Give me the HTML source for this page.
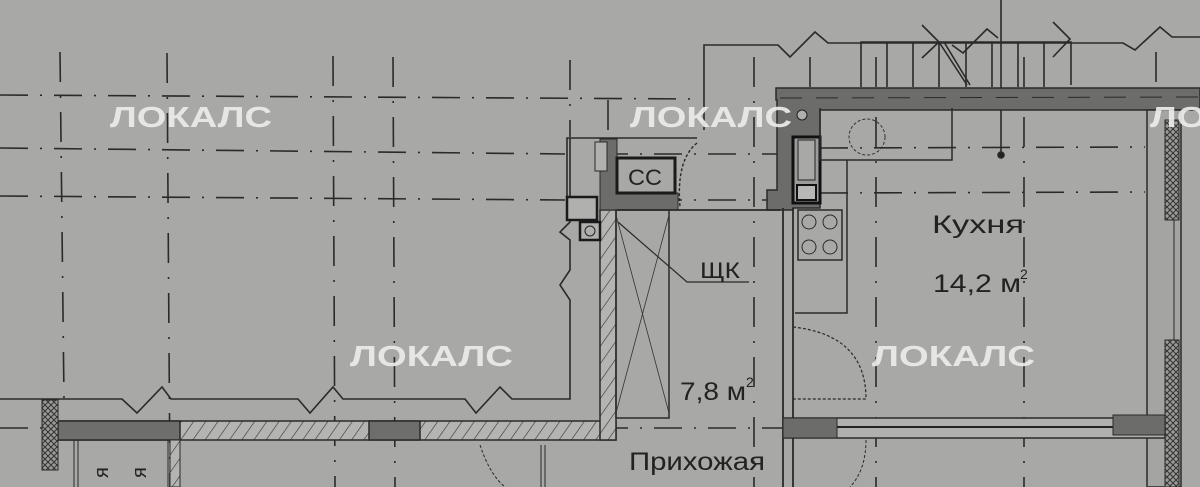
<!DOCTYPE html>
<html><head><meta charset="utf-8"><style>
html,body{margin:0;padding:0;background:#a8a8a6;}
svg{display:block}
.t{font-family:"Liberation Sans","DejaVu Sans",sans-serif;fill:#222}
.w{font-family:"Liberation Sans","DejaVu Sans",sans-serif;font-weight:bold;fill:#ececea;opacity:.92}
</style></head><body>
<svg width="1200" height="487" viewBox="0 0 1200 487" xmlns="http://www.w3.org/2000/svg">
<defs>
<pattern id="h" width="10" height="10" patternUnits="userSpaceOnUse" patternTransform="rotate(35)"><rect width="10" height="10" fill="#b4b4b2"/><line x1="0" y1="0" x2="0" y2="10" stroke="#333" stroke-width="1.2"/></pattern>
<pattern id="x" width="6" height="6" patternUnits="userSpaceOnUse"><rect width="6" height="6" fill="#9a9a98"/><path d="M0 0L6 6M6 0L0 6" stroke="#333" stroke-width="1"/></pattern>
</defs>
<rect width="1200" height="487" fill="#a8a8a6"/>
<g stroke="#2a2a2a" stroke-width="1.6" fill="none">
<g stroke-dasharray="28 12 2 12">
<line x1="0" y1="95" x2="700" y2="99"/>
<line x1="0" y1="148" x2="565" y2="154"/>
<line x1="0" y1="196" x2="565" y2="200"/>
<line x1="820" y1="148" x2="1145" y2="147"/>
<line x1="820" y1="193" x2="1145" y2="192"/>
<line x1="600" y1="154" x2="780" y2="154"/>
<line x1="600" y1="200" x2="780" y2="200"/>
<line x1="0" y1="428" x2="600" y2="428"/>
<line x1="600" y1="428" x2="795" y2="428"/>
</g>
<g stroke-dasharray="30 14 2 14">
<line x1="60" y1="52" x2="64" y2="400"/>
<line x1="167" y1="53" x2="170" y2="487"/>
<line x1="333" y1="56" x2="335" y2="487"/>
<line x1="393" y1="57" x2="395" y2="487"/>
<line x1="570" y1="60" x2="570" y2="137"/>
<line x1="754" y1="57" x2="754" y2="487"/>
<line x1="810" y1="57" x2="810" y2="110"/>
<line x1="876" y1="57" x2="876" y2="487"/>
<line x1="1024" y1="57" x2="1024" y2="487"/>
<line x1="1156" y1="52" x2="1156" y2="110"/>
<line x1="608" y1="100" x2="608" y2="140"/>
</g>
<path d="M704 130V45H778L790 57L815 32L828 43H1123L1135 50L1160 27L1172 37H1200"/>
<path d="M861 87V42H1071V85M887 42V87M913 42V87M939 42V87M966 42V87M992 42V87M1018 42V87M1044 42V87"/>
<path d="M922 25L939 42L922 58M1053 22L1070 39L1053 57M939 42L967 85M944 42L970 85M952 45L963 53L987 29L998 38"/>
<line x1="1001" y1="0" x2="1001" y2="155"/>
<circle cx="1001" cy="155" r="3" fill="#222"/>
<path d="M0 399H122L137 413L162 387L171 399H298L310 413L333 387L343 399H465L476 413L500 387L512 399H570V300L560 285L570 270V240L560 232L570 222V138"/>
</g>
<rect x="58" y="421" width="558" height="19" fill="url(#h)" stroke="#2a2a2a" stroke-width="1.5"/>
<rect x="58" y="421" width="122" height="19" fill="#6e6e6c" stroke="#2a2a2a" stroke-width="1.5"/>
<rect x="369" y="421" width="51" height="19" fill="#6e6e6c" stroke="#2a2a2a" stroke-width="1.5"/>
<rect x="42" y="400" width="16" height="70" fill="url(#x)" stroke="#2a2a2a"/>
<rect x="170" y="440" width="10" height="47" fill="url(#h)" stroke="#2a2a2a"/>
<path d="M74 487V440M78 487V440M168 487V440" stroke="#2a2a2a" fill="none"/>
<text class="t" transform="translate(108 478) rotate(-90)" font-size="20">я</text>
<text class="t" transform="translate(146 478) rotate(-90)" font-size="20">я</text>
<rect x="600" y="210" width="16" height="230" fill="url(#h)" stroke="#2a2a2a" stroke-width="1.5"/>
<path d="M567 200V138H697" stroke="#2a2a2a" stroke-width="1.6" fill="none"/>
<path d="M600 139H617V193H678V210H600Z" fill="#6c6c6a" stroke="#2a2a2a"/>
<rect x="617" y="158" width="58" height="35" fill="#a8a8a6" stroke="#1a1a1a" stroke-width="3"/>
<text class="t" x="628" y="185" font-size="22" textLength="34" lengthAdjust="spacingAndGlyphs">CC</text>
<rect x="595" y="142" width="12" height="29" fill="#b0b0ae" stroke="#2a2a2a"/>
<rect x="567" y="197" width="30" height="23" fill="#b0b0ae" stroke="#1a1a1a" stroke-width="2.5"/>
<rect x="580" y="222" width="20" height="18" fill="#b0b0ae" stroke="#1a1a1a" stroke-width="2.5"/>
<circle cx="590" cy="231" r="5" fill="none" stroke="#222"/>
<path d="M697 143Q676 160 680 207" stroke="#2a2a2a" stroke-dasharray="3 2" fill="none" stroke-width="1.4"/>
<path d="M776 88H1200V110H820V208H793V210H767V190H777V100H776Z" fill="#6c6c6a" stroke="#2a2a2a" stroke-width="1.5"/>
<line x1="780" y1="98" x2="1200" y2="97" stroke="#2a2a2a" stroke-dasharray="22 14"/>
<rect x="793" y="137" width="27" height="66" fill="#9c9c9a" stroke="#111" stroke-width="3"/>
<rect x="798" y="140" width="17" height="40" fill="#a8a8a6" stroke="#222"/>
<rect x="797" y="185" width="19" height="15" fill="#b8b8b6" stroke="#111" stroke-width="2"/>
<circle cx="802" cy="115" r="5" fill="#b0b0ae" stroke="#222"/>
<path d="M617 210H780M783 208V487M793 208V487" stroke="#2a2a2a" stroke-width="1.8" fill="none"/>
<rect x="1147" y="110" width="34" height="377" fill="#a4a4a2" stroke="#2a2a2a" stroke-width="1.5"/>
<rect x="1165" y="120" width="14" height="100" fill="url(#x)" stroke="#2a2a2a"/>
<rect x="1165" y="340" width="14" height="147" fill="url(#x)" stroke="#2a2a2a"/>
<line x1="1174" y1="220" x2="1174" y2="340" stroke="#2a2a2a"/>
<path d="M820 108V160H952V108M847 160V313H795" stroke="#2a2a2a" stroke-width="1.5" fill="none"/>
<circle cx="867" cy="137" r="18" fill="none" stroke="#333" stroke-dasharray="3 2"/>
<rect x="798" y="210" width="44" height="50" fill="none" stroke="#2a2a2a" stroke-width="1.5"/>
<g fill="none" stroke="#2a2a2a"><circle cx="809" cy="222" r="7"/><circle cx="830" cy="222" r="7"/><circle cx="809" cy="247" r="7"/><circle cx="830" cy="247" r="7"/></g>
<rect x="616" y="210" width="53" height="208" fill="none" stroke="#2a2a2a" stroke-width="1.5"/>
<path d="M616 215L669 413M669 215L616 413" stroke="#333" stroke-width="0.8" fill="none"/>
<path d="M618 222L687 282H749" stroke="#2a2a2a" stroke-width="1.2" fill="none"/>
<text class="t" x="700" y="278" font-size="22" textLength="40" lengthAdjust="spacingAndGlyphs">ЩК</text>
<path d="M793 327Q866 335 866 399H793" stroke="#2a2a2a" stroke-width="1.2" stroke-dasharray="3 2" fill="none"/>
<path d="M866 440Q866 470 850 487M480 445Q490 475 505 487" stroke="#2a2a2a" stroke-dasharray="3 2" fill="none"/>
<path d="M541 487V445M545 487V445" stroke="#2a2a2a" fill="none"/>
<rect x="783" y="418" width="382" height="20" fill="#b0b0ae" stroke="#2a2a2a" stroke-width="1.5"/>
<line x1="837" y1="427" x2="1113" y2="427" stroke="#222" stroke-width="2"/>
<rect x="783" y="418" width="54" height="20" fill="#6c6c6a" stroke="#2a2a2a"/>
<rect x="1113" y="415" width="52" height="20" fill="#6c6c6a" stroke="#2a2a2a"/>
<text class="t" x="932" y="233" font-size="25" textLength="92" lengthAdjust="spacingAndGlyphs">Кухня</text>
<text class="t" x="933" y="292" font-size="25" textLength="88" lengthAdjust="spacingAndGlyphs">14,2 м</text>
<text class="t" x="1020" y="279" font-size="14">2</text>
<text class="t" x="680" y="400" font-size="25" textLength="66" lengthAdjust="spacingAndGlyphs">7,8 м</text>
<text class="t" x="746" y="387" font-size="14">2</text>
<text class="t" x="629" y="470" font-size="25" textLength="136" lengthAdjust="spacingAndGlyphs">Прихожая</text>
<text class="w" x="110" y="127" font-size="29" textLength="162" lengthAdjust="spacingAndGlyphs">ЛОКАЛС</text>
<text class="w" x="630" y="127" font-size="29" textLength="162" lengthAdjust="spacingAndGlyphs">ЛОКАЛС</text>
<text class="w" x="350" y="366" font-size="29" textLength="163" lengthAdjust="spacingAndGlyphs">ЛОКАЛС</text>
<text class="w" x="872" y="366" font-size="29" textLength="163" lengthAdjust="spacingAndGlyphs">ЛОКАЛС</text>
<text class="w" x="1150" y="127" font-size="29" textLength="162" lengthAdjust="spacingAndGlyphs">ЛОКАЛС</text>
</svg>
</body></html>
